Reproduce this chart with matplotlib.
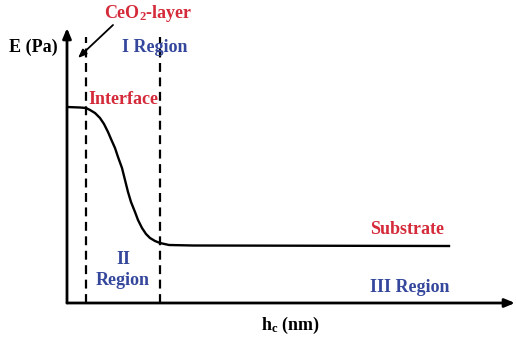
import matplotlib
matplotlib.use("Agg")
import matplotlib.pyplot as plt

plt.rcParams["mathtext.fontset"] = "custom"
plt.rcParams["mathtext.rm"] = "Liberation Serif:bold"
plt.rcParams["mathtext.bf"] = "Liberation Serif:bold"
plt.rcParams["mathtext.it"] = "Liberation Serif:bold"

# Schematic modulus profile E versus contact depth h_c
hc = [0, 13, 19, 23, 28, 33, 37, 41, 44, 48, 51, 55, 58, 61, 64, 68, 71,
      75, 79, 83, 88, 93, 102, 126, 382]
modulus = [196, 195.5, 195, 193, 190, 185, 179, 171, 164, 155, 146, 135,
           123, 111, 101, 91, 83, 75, 69, 65, 62, 60, 58, 57.5, 57]
boundaries = [19, 93]

RED = "#d42a3a"
BLUE = "#34479c"
FONT = ["Liberation Serif", "DejaVu Serif"]

fig = plt.figure(figsize=(5.16, 3.41), dpi=100)
ax = fig.add_axes([67 / 516, 38 / 341, 448 / 516, 275 / 341])
ax.set_xlim(0, 448)
ax.set_ylim(0, 275)
ax.axis("off")

# axes with arrow heads
ax.annotate("", xy=(0, 275), xytext=(0, 0),
            arrowprops=dict(arrowstyle="-|>,head_length=0.6,head_width=0.25",
                            lw=2.0, color="black", shrinkA=0, shrinkB=0),
            annotation_clip=False)
ax.annotate("", xy=(448, 0), xytext=(0, 0),
            arrowprops=dict(arrowstyle="-|>,head_length=0.6,head_width=0.25",
                            lw=2.0, color="black", shrinkA=0, shrinkB=0),
            annotation_clip=False)

# region boundaries
for b in boundaries:
    ax.plot([b, b], [0, 266], color="black", lw=1.6, ls=(0, (4, 2.5)))

# modulus curve
ax.plot(hc, modulus, color="black", lw=1.7, solid_joinstyle="round")

# arrow pointing at the oxide layer
ax.annotate("", xy=(11, 245), xytext=(46, 278),
            arrowprops=dict(arrowstyle="-|>,head_length=0.5,head_width=0.2",
                            lw=1.3, color="black", shrinkA=0, shrinkB=0),
            annotation_clip=False)

kw = dict(fontfamily=FONT, fontweight="bold", fontsize=13)
ax.text(81, 289, "CeO$_2$-layer", color=RED, ha="center", va="center", **kw)
ax.text(-9, 256, "E (Pa)", color="black", ha="right", va="center", **kw)
ax.text(88, 255, "I Region", color=BLUE, ha="center", va="center", **kw)
ax.text(56, 204, "Interface", color=RED, ha="center", va="center", **kw)
ax.text(56, 33, "II\nRegion", color=BLUE, ha="center", va="center",
        linespacing=1.35, **kw)
ax.text(340, 74, "Substrate", color=RED, ha="center", va="center", **kw)
ax.text(343, 16, "III Region", color=BLUE, ha="center", va="center", **kw)
ax.text(223, -22, "h$_c$ (nm)", color="black", ha="center", va="center",
        **kw)

fig.savefig("out.png", dpi=100)
